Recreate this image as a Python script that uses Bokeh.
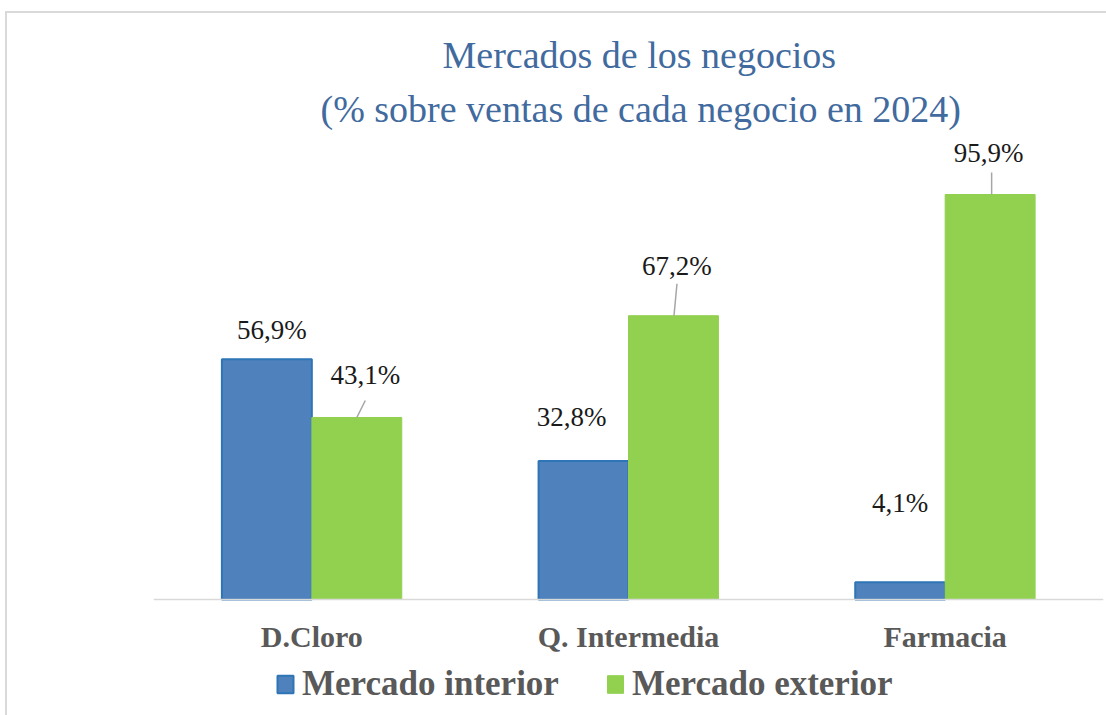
from bokeh.plotting import figure
from bokeh.models import (FactorRange, Range1d, Title, Legend, LegendItem,
                          ColumnDataSource, InlineStyleSheet)
from bokeh.transform import dodge
from bokeh.core.properties import value
from bokeh.embed import file_html
from bokeh.resources import INLINE

# ---------------- data ----------------
categories = ["D.Cloro", "Q. Intermedia", "Farmacia"]
interior = [56.9, 32.8, 4.1]
exterior = [43.1, 67.2, 95.9]
interior_labels = ["56,9%", "32,8%", "4,1%"]
exterior_labels = ["43,1%", "67,2%", "95,9%"]
series_names = ["Mercado interior", "Mercado exterior"]
title_lines = ["Mercados de los negocios",
               "(% sobre ventas de cada negocio en 2024)"]

# ---------------- styling ----------------
FRAME_W = 950
PLOT_H = 459                 # pixels from baseline to top of frame
BELOW_H = 116                # pixels below baseline (axis labels + legend)
PX_PER_UNIT = 4.223          # vertical pixels per percentage point
PX_PER_CAT = FRAME_W / 3.0   # horizontal pixels per category
BAR_W = 0.284
SERIF = "Liberation Serif"
BLUE, BLUE_LINE, GREEN = "#4f81bd", "#2e75b6", "#92d050"
TITLE_COLOR = "#416a9e"
LABEL_COLOR = "#1a1a1a"
AXIS_TEXT = "#595959"

# label placement offsets (pixels)
int_dx = [5, -12, 0]
int_dy = [-29, -44, -79]
ext_dx = [8.5, 3.5, -1.5]
ext_dy = [-42, -50, -42]
# leader lines (pixels): start dx, end dx, end height above bar top
lead_dx0 = [0, 0.5, 1.5]
lead_dx1 = [8.5, 3.5, 1.5]
lead_h = [17, 32, 22]

chart_border = InlineStyleSheet(css="""
:host { position: relative; }
:host::after {
  content: "";
  position: absolute;
  left: 5px; top: 11px; right: 0px; bottom: 0px;
  border-left: 2px solid #d9d9d9;
  border-top: 2px solid #d9d9d9;
  pointer-events: none;
}
""")

p = figure(x_range=FactorRange(*categories),
           y_range=Range1d(-BELOW_H / PX_PER_UNIT, PLOT_H / PX_PER_UNIT),
           frame_width=FRAME_W, frame_height=PLOT_H + BELOW_H,
           min_border_left=153, min_border_right=3,
           min_border_top=140, min_border_bottom=0,
           output_backend="svg", toolbar_location=None,
           background_fill_color="white", border_fill_color="white",
           outline_line_color=None, stylesheets=[chart_border])

src = ColumnDataSource(dict(cat=categories, interior=interior, exterior=exterior,
                            il=interior_labels, el=exterior_labels,
                            idx=int_dx, idy=int_dy, edx=ext_dx, edy=ext_dy))

r_int = p.vbar(x=dodge("cat", -BAR_W / 2, range=p.x_range), top="interior",
               width=BAR_W, source=src, fill_color=BLUE,
               line_color=BLUE_LINE, line_width=2)
r_ext = p.vbar(x=dodge("cat", BAR_W / 2, range=p.x_range), top="exterior",
               width=BAR_W, source=src, fill_color=GREEN,
               line_color=GREEN, line_width=1)

# leader lines for exterior labels
lx0 = [(c, BAR_W / 2 + d / PX_PER_CAT) for c, d in zip(categories, lead_dx0)]
lx1 = [(c, BAR_W / 2 + d / PX_PER_CAT) for c, d in zip(categories, lead_dx1)]
ly0 = exterior
ly1 = [v + h / PX_PER_UNIT for v, h in zip(exterior, lead_h)]
p.segment(x0=lx0, y0=ly0, x1=lx1, y1=ly1, line_color="#a6a6a6", line_width=1.5)

common = dict(text_font=value(SERIF), text_font_size="27px",
              text_color=LABEL_COLOR, text_align="center",
              text_baseline="middle", source=src)
p.text(x=dodge("cat", -BAR_W / 2, range=p.x_range), y="interior", text="il",
       x_offset="idx", y_offset="idy", **common)
p.text(x=dodge("cat", BAR_W / 2, range=p.x_range), y="exterior", text="el",
       x_offset="edx", y_offset="edy", **common)

# titles (first added is nearest the frame)
title_offsets = [167, 289]   # left offsets from frame (line 2, line 1)
title_standoffs = [21, 0]
for line, off, so in zip(reversed(title_lines), title_offsets, title_standoffs):
    t = Title(text=line, align="left", text_font=SERIF,
              text_font_size="38px", text_font_style="normal",
              text_color=TITLE_COLOR, offset=off, standoff=so)
    p.add_layout(t, "above")

# axes
p.yaxis.visible = False
p.xgrid.grid_line_color = None
p.ygrid.grid_line_color = None
ax = p.xaxis[0]
ax.fixed_location = 0
ax.axis_line_color = "#d9d9d9"
ax.axis_line_width = 1.5
ax.major_tick_line_color = None
ax.minor_tick_line_color = None
ax.major_tick_out = 0
ax.major_tick_in = 0
ax.major_label_standoff = 20
ax.major_label_text_font = SERIF
ax.major_label_text_font_size = "30px"
ax.major_label_text_font_style = "bold"
ax.major_label_text_color = AXIS_TEXT

legend = Legend(items=[LegendItem(label=series_names[0], renderers=[r_int]),
                       LegendItem(label=series_names[1], renderers=[r_ext])],
                orientation="horizontal", location=(122, 11),
                glyph_width=20, glyph_height=22, label_standoff=7,
                spacing=46, padding=0, margin=0,
                label_text_font=SERIF, label_text_font_size="35px",
                label_text_font_style="bold", label_text_color=AXIS_TEXT,
                border_line_color=None, background_fill_alpha=0)
p.add_layout(legend, "center")

open("out.html", "w").write(file_html(p, INLINE))
